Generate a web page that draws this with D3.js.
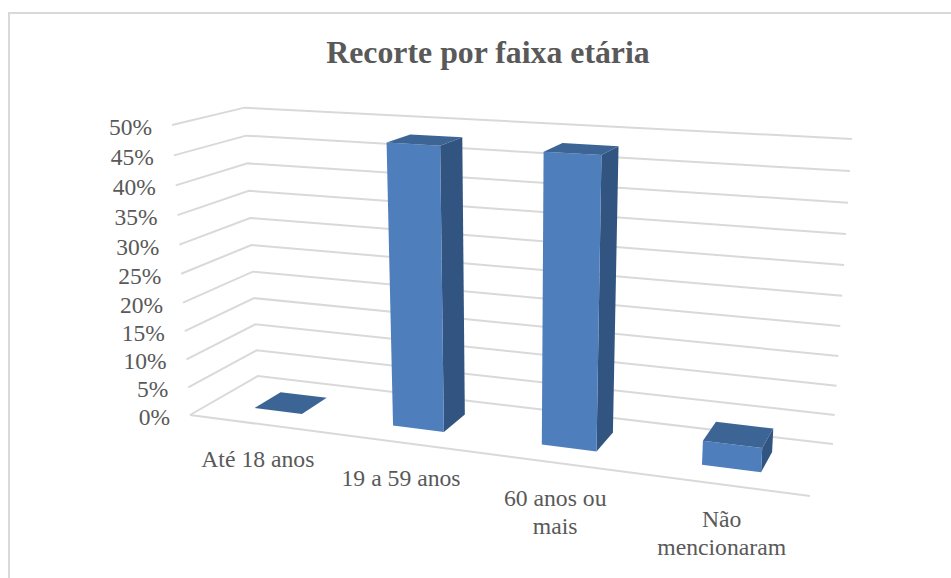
<!DOCTYPE html>
<html>
<head>
<meta charset="utf-8">
<script src="https://cdn.jsdelivr.net/npm/d3@7"></script>
<style>
body{margin:0;background:#fff;}
svg{display:block;}
text{font-family:"Liberation Serif","Times New Roman",serif;fill:#595959;}
</style>
</head>
<body>
<div class="bar-chart-container"></div>
<script>
//Data
const categories = ['Até 18 anos','19 a 59 anos','60 anos ou mais','Não mencionaram'];
const categoryLines = [['Até 18 anos'],['19 a 59 anos'],['60 anos ou','mais'],['Não','mencionaram']];
const values = [0,48,48,4];
const yTicks = [0,5,10,15,20,25,30,35,40,45,50];
const chartTitle = 'Recorte por faixa etária';

const svg_width = 951;
const svg_height = 578;

//Perspective of the 3D box: x,y are screen numerators, w the divisor
//u = along categories, v = depth, h = height (all 0 to 1)
//xuh,yuh: small correction so the top right corner lands where it should
const persp = {
    x0:190, xu:506.8, xv:89.6, xh:-26.6, xuh:2,
    y0:415, yu:11.7, yv:-7.45, yh:-296.25, yuh:1.3,
    wu:-0.1397, wv:0.0839, wh:-0.05
};
function project(u,v,h){
    const w = 1 + persp.wu*u + persp.wv*v + persp.wh*h;
    return [
        (persp.x0 + persp.xu*u + persp.xv*v + persp.xh*h + persp.xuh*u*h)/w,
        (persp.y0 + persp.yu*u + persp.yv*v + persp.yh*h + persp.yuh*u*h)/w
    ];
}

//scale
const uScale = d3.scaleBand().domain(categories).range([0,1]).paddingInner(0.65).paddingOuter(0.325);
const hScale = d3.scaleLinear().domain([0,50]).range([0,1]);
const depthFront = 0.3;
const depthBack = 0.7;

const this_svg = d3.select('.bar-chart-container').append('svg')
    .attr('width',svg_width).attr('height',svg_height);

//Chart frame (left and top only, the rest is cropped)
this_svg.append('path')
    .attr('d',`M9,${svg_height}V13H${svg_width}`)
    .style('fill','none').style('stroke','#d9d9d9').style('stroke-width',2);

//Title
this_svg.append('text')
    .attr('x',488).attr('y',63)
    .style('text-anchor','middle')
    .style('font-size','31.8px').style('font-weight','bold')
    .text(chartTitle);

//Gridlines: side wall + back wall
const lineGen = d3.line();
const grid = this_svg.append('g').attr('class','grid')
    .style('fill','none').style('stroke','#d9d9d9').style('stroke-width',2);
grid.selectAll('.wall').data(yTicks).enter().append('path')
    .attr('class','wall')
    .attr('d',d=>lineGen([project(0,0,hScale(d)),project(0,1,hScale(d)),project(1,1,hScale(d))]));
//front edge of the floor
grid.append('path').attr('d',lineGen([project(0,0,0),project(1,0,0)]));

//Y labels
this_svg.append('g').attr('class','y labels')
    .selectAll('text').data(yTicks).enter().append('text')
    .attr('x',d=>project(0,0,hScale(d))[0]-20)
    .attr('y',d=>project(0,0,hScale(d))[1]+10)
    .style('text-anchor','end')
    .style('font-size','23.5px')
    .text(d=>d+'%');

//Bars, each with side, top and front faces
const bars = this_svg.append('g').attr('class','bars')
    .selectAll('.bar').data(values).enter().append('g').attr('class','bar');
function barFace(i,face){
    const u0 = uScale(categories[i]);
    const u1 = u0 + uScale.bandwidth();
    const h = hScale(values[i]);
    const faces = {
        side:[[u1,depthFront,0],[u1,depthBack,0],[u1,depthBack,h],[u1,depthFront,h]],
        top:[[u0,depthFront,h],[u1,depthFront,h],[u1,depthBack,h],[u0,depthBack,h]],
        front:[[u0,depthFront,0],[u1,depthFront,0],[u1,depthFront,h],[u0,depthFront,h]]
    };
    return lineGen(faces[face].map(p=>project(p[0],p[1],p[2])))+'Z';
}
bars.append('path').attr('d',(d,i)=>barFace(i,'side')).style('fill','#325480');
bars.append('path').attr('d',(d,i)=>barFace(i,'front')).style('fill','#4e7fbc');
bars.append('path').attr('d',(d,i)=>barFace(i,'top')).style('fill','#3c6595');

//Category labels, wrapped like the original
const catCenter = c => project(uScale(c)+uScale.bandwidth()/2,0,0);
const catLabels = this_svg.append('g').attr('class','x labels')
    .selectAll('text').data(categories).enter().append('text')
    .attr('y',d=>catCenter(d)[1]+43)
    .style('text-anchor','middle')
    .style('font-size','23.7px');
catLabels.selectAll('tspan').data((d,i)=>categoryLines[i].map(t=>({t:t,c:d}))).enter().append('tspan')
    .attr('x',d=>catCenter(d.c)[0])
    .attr('dy',(d,i)=>i===0?0:28)
    .text(d=>d.t);
</script>
</body>
</html>
